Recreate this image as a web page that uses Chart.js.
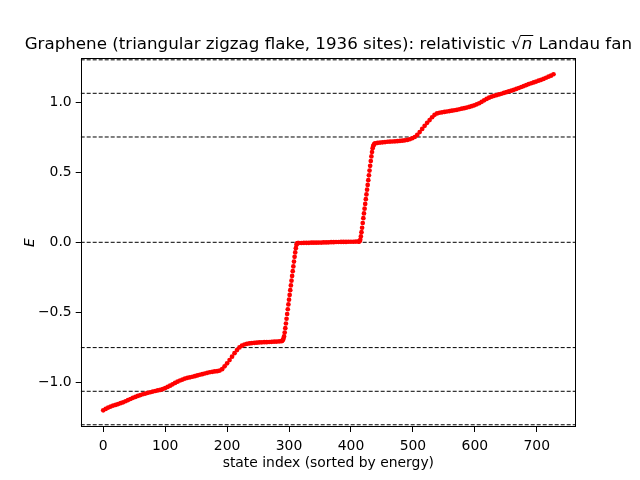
<!DOCTYPE html>
<html>
<head>
<meta charset="utf-8">
<script src="https://cdn.jsdelivr.net/npm/chart.js@4.4.1/dist/chart.umd.min.js"></script>
<style>
  html, body { margin: 0; padding: 0; background: #fff; }
  #wrap { width: 640px; height: 480px; }
</style>
</head>
<body>
<div id="wrap"><canvas id="fan" width="640" height="480"></canvas></div>
<script>
// sorted eigen-energies read off the plot (sampled every 4 states on the
// smooth parts, every state on the steep jumps)
const stateIndex = [
  0,4,8,12,16,20,24,28,32,36,40,44,48,52,56,60,64,68,72,76,80,84,88,92,96,
  100,104,108,112,116,120,124,128,132,136,140,144,148,152,156,160,164,168,172,176,
  180,184,188,192,196,200,204,208,212,216,220,224,228,232,236,240,244,248,252,256,
  260,264,268,272,276,280,284,288,
  289,290,291,292,293,294,295,296,297,298,299,300,301,302,303,304,305,306,307,308,
  309,310,311,312,313,314,315,
  316,320,324,328,332,336,340,344,348,352,356,360,364,368,372,376,380,384,388,392,
  396,400,404,408,412,
  413,414,415,416,417,418,419,420,421,422,423,424,425,426,427,428,429,430,431,432,
  433,434,435,436,437,438,
  439,443,447,451,455,459,463,467,471,475,479,483,487,491,495,499,503,507,511,515,
  519,523,527,531,535,539,543,547,551,555,559,563,567,571,575,579,583,587,591,595,
  599,603,607,611,615,619,623,627,631,635,639,643,647,651,655,659,663,667,671,675,
  679,683,687,691,695,699,703,707,711,715,719,723,727
];

const energy = [
  -1.200,-1.190,-1.180,-1.173,-1.166,-1.161,-1.155,-1.149,-1.143,-1.135,
  -1.127,-1.119,-1.111,-1.104,-1.097,-1.091,-1.085,-1.080,-1.075,-1.071,
  -1.066,-1.062,-1.058,-1.054,-1.049,-1.041,-1.033,-1.024,-1.014,-1.004,
  -0.995,-0.987,-0.980,-0.973,-0.968,-0.964,-0.960,-0.956,-0.951,-0.946,
  -0.942,-0.937,-0.932,-0.928,-0.925,-0.922,-0.920,-0.916,-0.906,-0.886,
  -0.864,-0.841,-0.817,-0.792,-0.770,-0.751,-0.738,-0.730,-0.725,-0.722,
  -0.720,-0.718,-0.717,-0.715,-0.714,-0.713,-0.713,-0.712,-0.711,-0.710,
  -0.709,-0.708,-0.706,
  -0.703,-0.697,-0.688,-0.672,-0.645,-0.613,-0.580,-0.546,-0.512,-0.478,
  -0.444,-0.410,-0.376,-0.342,-0.308,-0.274,-0.240,-0.206,-0.172,-0.138,
  -0.104,-0.072,-0.042,-0.018,-0.008,-0.006,-0.005,
  -0.005,-0.005,-0.004,-0.004,-0.004,-0.003,-0.003,-0.003,-0.002,-0.002,
  -0.001,-0.001,0.000,0.001,0.001,0.002,0.002,0.003,0.003,0.003,
  0.004,0.004,0.004,0.005,0.005,
  0.005,0.008,0.018,0.042,0.072,0.104,0.138,0.172,0.206,0.240,
  0.274,0.308,0.342,0.376,0.410,0.444,0.478,0.512,0.546,0.580,
  0.613,0.645,0.672,0.688,0.697,0.703,
  0.707,0.710,0.712,0.714,0.716,0.718,0.719,0.720,0.721,0.722,
  0.724,0.726,0.728,0.731,0.736,0.743,0.752,0.767,0.787,0.810,
  0.832,0.853,0.873,0.893,0.910,0.920,0.925,0.928,0.931,0.934,
  0.937,0.940,0.943,0.946,0.950,0.954,0.958,0.962,0.967,0.972,
  0.978,0.985,0.993,1.003,1.014,1.024,1.033,1.040,1.046,1.051,
  1.056,1.061,1.067,1.072,1.078,1.083,1.089,1.095,1.102,1.109,
  1.116,1.123,1.130,1.136,1.142,1.148,1.154,1.160,1.167,1.175,
  1.183,1.190,1.200
];

// Landau levels E_n = ±c*sqrt(n), n = 0..3 (dashed guides)
const landauLevels = [-1.303, -1.064, -0.752, 0, 0.752, 1.064, 1.303];

const xTicks = [0, 100, 200, 300, 400, 500, 600, 700];
const yTicks = [-1.0, -0.5, 0.0, 0.5, 1.0];
const xRange = [-36.35, 763.35];
const yRange = [-1.319, 1.314];

const FONT = '"DejaVu Sans", "Liberation Sans", sans-serif';

function minusSign(s) {
  return s.replace('-', '\u2212');
}

// ------------------------------
// Title, axis labels and the box around the axes
// ------------------------------
const mplText = {
  id: 'mplText',
  afterDraw(chart) {
    const ctx = chart.ctx;
    const a = chart.chartArea;
    ctx.save();

    // frame
    ctx.strokeStyle = '#000';
    ctx.lineWidth = 1;
    ctx.strokeRect(Math.round(a.left) + 0.5, Math.round(a.top) + 0.5,
      Math.round(a.right - a.left) - 1, Math.round(a.bottom - a.top) - 1);

    ctx.fillStyle = '#000';
    ctx.textBaseline = 'alphabetic';

    // title with sqrt(n)
    const f = '16.7px ' + FONT;
    const fi = 'italic 16.7px ' + FONT;
    const p1 = 'Graphene (triangular zigzag flake, 1936 sites): relativistic ';
    const p2 = '\u221A';
    const p3 = 'n';
    const p4 = ' Landau fan';
    ctx.font = f;
    const w1 = ctx.measureText(p1).width;
    const w2 = ctx.measureText(p2).width;
    const w4 = ctx.measureText(p4).width;
    ctx.font = fi;
    const w3 = ctx.measureText(p3).width + 1;
    const total = w1 + w2 + w3 + w4;
    let x = (a.left + a.right) / 2 - total / 2;
    const base = 49;
    ctx.textAlign = 'left';
    ctx.font = f;
    ctx.fillText(p1, x, base);
    x += w1;
    ctx.fillText(p2, x, base);
    const barStart = x + w2 - 1;
    x += w2;
    ctx.font = fi;
    ctx.fillText(p3, x, base);
    x += w3;
    ctx.beginPath();
    ctx.lineWidth = 1;
    ctx.moveTo(barStart, base - 13.5);
    ctx.lineTo(x, base - 13.5);
    ctx.stroke();
    ctx.font = f;
    ctx.fillText(p4, x, base);

    // x label
    ctx.font = '13.9px ' + FONT;
    ctx.textAlign = 'center';
    ctx.fillText('state index (sorted by energy)', (a.left + a.right) / 2, 467);

    // y label
    ctx.translate(34, (a.top + a.bottom) / 2);
    ctx.rotate(-Math.PI / 2);
    ctx.font = 'italic 13.9px ' + FONT;
    ctx.fillText('E', 0, 0);
    ctx.restore();
  }
};

// ------------------------------
// Chart
// ------------------------------
const points = stateIndex.map((n, i) => ({ x: n, y: energy[i] }));

const levelSets = landauLevels.map(e => ({
  type: 'line',
  data: [{ x: xRange[0], y: e }, { x: xRange[1], y: e }],
  borderColor: '#000',
  borderWidth: 1,
  borderDash: [4, 2],
  pointRadius: 0,
  fill: false,
  order: 1
}));

new Chart(document.getElementById('fan').getContext('2d'), {
  type: 'scatter',
  data: {
    datasets: [
      {
        data: points,
        backgroundColor: '#ff0000',
        borderWidth: 0,
        pointRadius: 2.35,
        order: 0
      },
      ...levelSets
    ]
  },
  options: {
    responsive: false,
    animation: false,
    devicePixelRatio: 1,
    layout: { padding: { top: 58.3, right: 64, left: 0, bottom: 0 } },
    plugins: {
      legend: { display: false },
      tooltip: { enabled: false },
      title: { display: false }
    },
    scales: {
      x: {
        type: 'linear',
        min: xRange[0],
        max: xRange[1],
        afterBuildTicks: s => { s.ticks = xTicks.map(v => ({ value: v })); },
        afterFit: s => { s.height = 53; },
        ticks: {
          font: { family: FONT, size: 13.9 },
          color: '#000',
          padding: 6,
          maxRotation: 0,
          autoSkip: false,
          callback: v => minusSign(String(v))
        },
        grid: { drawOnChartArea: false, drawTicks: true, tickLength: 5, color: '#000', tickWidth: 1 },
        border: { display: false }
      },
      y: {
        type: 'linear',
        min: yRange[0],
        max: yRange[1],
        afterBuildTicks: s => { s.ticks = yTicks.map(v => ({ value: v })); },
        afterFit: s => { s.width = 80.7; },
        ticks: {
          font: { family: FONT, size: 13.9 },
          color: '#000',
          padding: 4,
          autoSkip: false,
          callback: v => minusSign(v.toFixed(1))
        },
        grid: { drawOnChartArea: false, drawTicks: true, tickLength: 5, color: '#000', tickWidth: 1 },
        border: { display: false }
      }
    }
  },
  plugins: [mplText]
});
</script>
</body>
</html>
